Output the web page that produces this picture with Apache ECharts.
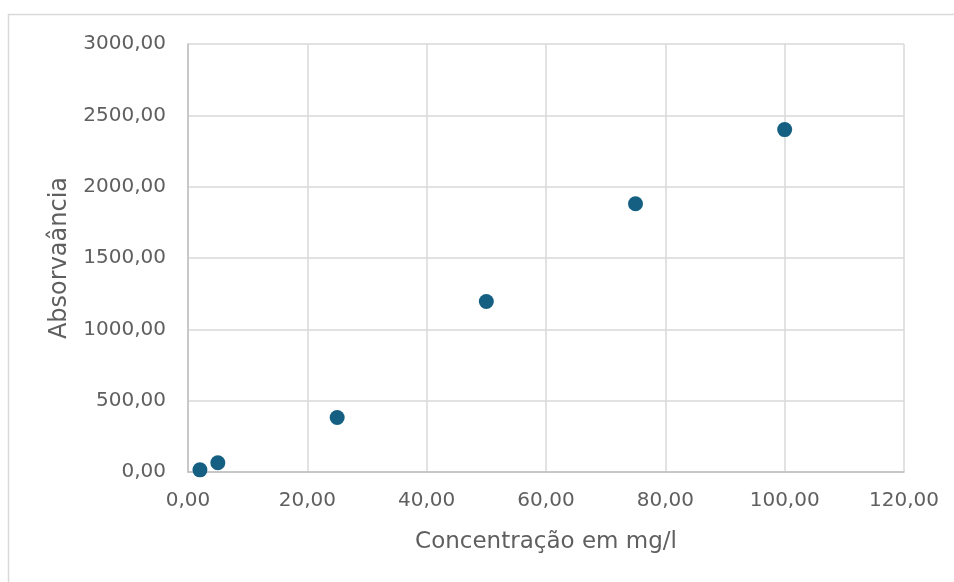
<!DOCTYPE html>
<html><head><meta charset="utf-8">
<script src="https://cdn.jsdelivr.net/npm/echarts@6/dist/echarts.min.js"></script>
<style>html,body{margin:0;padding:0;background:#fff}#c{width:954px;height:582px}</style>
</head><body><div id="c"></div>
<script>
const concentrations = [2, 5, 25, 50, 75, 100];
const absorbances = [15, 65, 382, 1195, 1880, 2400];
const xTitle = 'Concentração em mg/l';
const yTitle = 'Absorvaância';

const fmt = v => v.toFixed(2).replace('.', ',');
const font = 'DejaVu Sans, sans-serif';
const chart = echarts.init(document.getElementById('c'));
chart.setOption({
  animation: false,
  graphic: [{type:'rect', shape:{x:8.5,y:14.5,width:1000,height:700}, style:{fill:'none',stroke:'#d9d9d9',lineWidth:1.5}, silent:true}],
  grid: {left:188, right:50, top:44, bottom:110},
  xAxis: {
    type:'value', min:0, max:120, interval:20,
    axisLine:{show:true, lineStyle:{color:'#bfbfbf', width:1.5}},
    axisTick:{show:false},
    splitLine:{show:true, lineStyle:{color:'#d9d9d9', width:1.5}},
    axisLabel:{formatter:fmt, color:'#5f5f5f', fontSize:20, fontFamily:font, margin:19},
    name:xTitle, nameLocation:'middle', nameGap:59,
    nameTextStyle:{color:'#5f5f5f', fontSize:23, fontFamily:font}
  },
  yAxis: {
    type:'value', min:0, max:3000, interval:500,
    axisLine:{show:true, lineStyle:{color:'#bfbfbf', width:1.5}},
    axisTick:{show:false},
    splitLine:{show:true, lineStyle:{color:'#d9d9d9', width:1.5}},
    axisLabel:{formatter:fmt, color:'#5f5f5f', fontSize:20, fontFamily:font, margin:22},
    name:yTitle, nameLocation:'middle', nameGap:116, nameRotate:90,
    nameTextStyle:{color:'#5f5f5f', fontSize:24, fontFamily:font}
  },
  series: [{
    type:'scatter',
    data: concentrations.map((x,i)=>[x, absorbances[i]]),
    symbolSize:15,
    itemStyle:{color:'#156082', opacity:1}
  }]
});
</script></body></html>
